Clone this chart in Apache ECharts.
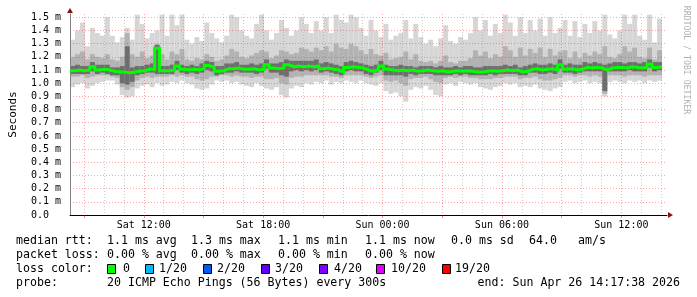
<!DOCTYPE html>
<html><head><meta charset="utf-8">
<script src="https://cdn.jsdelivr.net/npm/echarts@6/dist/echarts.min.js"></script>
<style>html,body{margin:0;padding:0;background:#fff}#c{width:697px;height:297px}</style>
</head><body><div id="c"></div>
<script>
// ---- time frame (hours since Sat 00:00) ----
const startHour = 8 + 17/60 + 38/3600;   // Sat 08:17:38
const stepHours = 0.25;                  // one smoke column = 15 min
const spanHours = 30;
const yMax = 1.525;

// ---- data (ms) ----
const medianRtt = [
1.095,1.10,1.095,1.10,1.125,1.10,1.105,1.10,1.09,1.085,
1.085,1.08,1.085,1.09,1.095,1.105,1.105,1.265,1.095,1.095,
1.10,1.13,1.105,1.10,1.105,1.10,1.11,1.135,1.12,1.09,
1.095,1.11,1.11,1.115,1.105,1.105,1.11,1.10,1.105,1.14,
1.115,1.11,1.115,1.14,1.125,1.13,1.125,1.13,1.125,1.13,
1.11,1.115,1.105,1.10,1.085,1.12,1.125,1.12,1.115,1.10,
1.09,1.105,1.13,1.105,1.10,1.095,1.10,1.095,1.10,1.09,
1.095,1.10,1.095,1.09,1.095,1.085,1.09,1.095,1.09,1.095,
1.09,1.085,1.085,1.09,1.095,1.09,1.095,1.10,1.095,1.10,
1.085,1.09,1.105,1.11,1.10,1.105,1.11,1.10,1.14,1.105,
1.11,1.10,1.105,1.12,1.115,1.12,1.115,1.10,1.115,1.12,
1.12,1.115,1.125,1.12,1.115,1.12,1.145,1.12,1.125];
const smokeMax = [
1.33,1.40,1.46,1.28,1.42,1.38,1.36,1.50,1.36,1.31,
1.35,1.42,1.33,1.52,1.45,1.34,1.38,1.40,1.52,1.36,
1.52,1.44,1.52,1.33,1.30,1.35,1.32,1.46,1.38,1.34,
1.31,1.36,1.52,1.50,1.40,1.36,1.34,1.45,1.52,1.40,
1.33,1.38,1.48,1.42,1.36,1.40,1.50,1.45,1.38,1.47,
1.40,1.50,1.38,1.52,1.48,1.46,1.52,1.50,1.42,1.36,
1.48,1.40,1.35,1.45,1.33,1.36,1.38,1.48,1.34,1.45,
1.35,1.30,1.33,1.28,1.34,1.44,1.32,1.30,1.35,1.33,
1.38,1.50,1.40,1.48,1.36,1.45,1.38,1.52,1.46,1.36,
1.50,1.38,1.48,1.40,1.49,1.36,1.50,1.38,1.42,1.48,
1.36,1.47,1.35,1.45,1.38,1.47,1.40,1.52,1.37,1.34,
1.40,1.52,1.45,1.52,1.36,1.33,1.52,1.31,1.49];
const smokeHi = [
1.20,1.22,1.24,1.18,1.22,1.20,1.19,1.22,1.18,1.17,
1.20,1.38,1.22,1.20,1.24,1.19,1.21,1.30,1.22,1.18,
1.24,1.22,1.26,1.18,1.17,1.19,1.18,1.22,1.20,1.17,
1.18,1.21,1.26,1.24,1.20,1.19,1.21,1.23,1.25,1.24,
1.19,1.21,1.25,1.24,1.22,1.23,1.27,1.26,1.24,1.27,
1.25,1.28,1.24,1.30,1.27,1.26,1.30,1.28,1.25,1.22,
1.26,1.22,1.21,1.23,1.18,1.19,1.20,1.24,1.18,1.22,
1.17,1.16,1.17,1.15,1.17,1.21,1.16,1.15,1.17,1.17,
1.19,1.25,1.21,1.24,1.19,1.22,1.20,1.28,1.25,1.20,
1.27,1.21,1.26,1.23,1.27,1.20,1.26,1.21,1.24,1.25,
1.19,1.24,1.19,1.23,1.21,1.24,1.22,1.28,1.20,1.19,
1.22,1.28,1.24,1.27,1.20,1.19,1.27,1.18,1.25];
const smokeCoreHi = [
1.13,1.14,1.13,1.13,1.16,1.14,1.14,1.14,1.12,1.12,
1.13,1.28,1.12,1.13,1.13,1.14,1.15,1.29,1.13,1.13,
1.14,1.17,1.14,1.13,1.14,1.13,1.15,1.17,1.16,1.13,
1.13,1.15,1.15,1.16,1.14,1.14,1.15,1.14,1.15,1.18,
1.15,1.15,1.16,1.18,1.17,1.17,1.17,1.17,1.17,1.18,
1.15,1.16,1.15,1.14,1.13,1.16,1.17,1.16,1.15,1.14,
1.13,1.14,1.17,1.14,1.13,1.13,1.14,1.13,1.13,1.12,
1.13,1.13,1.13,1.12,1.13,1.12,1.12,1.13,1.12,1.13,
1.13,1.12,1.12,1.13,1.13,1.13,1.13,1.14,1.13,1.14,
1.12,1.13,1.14,1.15,1.14,1.14,1.15,1.14,1.18,1.14,
1.15,1.14,1.14,1.16,1.15,1.16,1.15,1.14,1.15,1.16,
1.16,1.15,1.16,1.16,1.15,1.16,1.18,1.16,1.16];
const smokeCoreLo = [
1.07,1.07,1.07,1.07,1.09,1.07,1.08,1.07,1.06,1.06,
1.00,0.99,1.01,1.06,1.07,1.08,1.08,1.07,1.07,1.07,
1.07,1.10,1.08,1.07,1.08,1.07,1.08,1.10,1.09,1.06,
1.07,1.08,1.08,1.09,1.08,1.08,1.08,1.07,1.08,1.11,
1.08,1.08,1.06,1.05,1.09,1.10,1.09,1.10,1.09,1.10,
1.08,1.09,1.08,1.07,1.06,1.09,1.10,1.09,1.09,1.07,
1.06,1.08,1.10,1.06,1.06,1.06,1.06,1.05,1.07,1.06,
1.07,1.07,1.07,1.06,1.06,1.06,1.06,1.07,1.06,1.07,
1.06,1.06,1.06,1.06,1.07,1.06,1.07,1.07,1.07,1.07,
1.06,1.06,1.08,1.08,1.07,1.07,1.08,1.07,1.11,1.08,
1.08,1.07,1.08,1.09,1.09,1.09,1.09,0.94,1.09,1.09,
1.09,1.09,1.10,1.09,1.09,1.09,1.12,1.09,1.10];
const smokeLo = [
1.05,1.05,1.06,1.04,1.05,1.06,1.06,1.06,1.05,1.04,
0.97,0.95,0.97,1.02,1.04,1.05,1.04,1.05,1.05,1.05,
1.06,1.05,1.06,1.05,1.05,1.03,1.02,1.03,1.05,1.05,
1.06,1.06,1.05,1.06,1.05,1.05,1.04,1.05,1.05,1.03,
1.03,1.04,1.00,0.99,1.04,1.05,1.05,1.06,1.06,1.06,
1.06,1.06,1.05,1.05,1.04,1.06,1.06,1.06,1.06,1.05,
1.04,1.05,1.06,1.02,1.01,1.02,1.00,0.98,1.03,1.04,
1.04,1.05,1.03,1.01,1.00,1.04,1.05,1.04,1.05,1.05,
1.04,1.04,1.03,1.03,1.03,1.04,1.04,1.05,1.05,1.05,
1.03,1.04,1.04,1.05,1.03,1.02,1.02,1.03,1.04,1.06,
1.06,1.05,1.06,1.06,1.05,1.06,1.05,0.92,1.06,1.06,
1.06,1.05,1.06,1.06,1.06,1.05,1.06,1.06,1.06];
const smokeMin = [
0.97,0.99,1.00,0.96,0.98,1.00,1.01,1.02,1.02,0.99,
0.91,0.89,0.90,0.96,0.98,0.99,0.97,1.00,0.98,0.99,
1.01,1.00,1.02,1.00,0.99,0.96,0.95,0.96,0.99,1.02,
1.01,1.02,1.00,1.01,0.99,0.98,0.97,1.00,0.98,0.96,
0.95,0.97,0.91,0.89,0.96,0.98,0.97,1.00,0.99,1.01,
1.00,1.02,0.99,1.01,1.00,1.02,1.01,1.00,1.02,1.00,
0.99,0.98,1.00,0.94,0.92,0.93,0.90,0.86,0.95,0.97,
0.96,0.98,0.95,0.91,0.90,0.99,1.00,0.98,1.01,1.00,
0.99,1.00,0.97,0.96,0.95,0.97,0.98,1.00,0.99,1.00,
0.97,0.98,0.97,0.99,0.96,0.95,0.94,0.96,0.97,1.01,
1.02,1.00,1.01,1.02,1.00,1.01,1.00,0.90,1.01,1.02,
1.01,1.00,1.02,1.01,1.02,1.00,1.02,1.01,1.02];

// ---- axes ----
const yTicks = [0,0.1,0.2,0.3,0.4,0.5,0.6,0.7,0.8,0.9,1.0,1.1,1.2,1.3,1.4,1.5];
const majorHours = [9,12,15,18,21,24,27,30,33,36];
const minorHours = [10,11,13,14,16,17,19,20,22,23,25,26,28,29,31,32,34,35,37,38];
const labelHours = [12,18,24,30,36];
const tickLabels = ['Sat 12:00','Sat 18:00','Sun 00:00','Sun 06:00','Sun 12:00'];

// ---- legend ----
const lossLabels = ['0','1/20','2/20','3/20','4/20','10/20','19/20'];
const lossColors = ['#00ff00','#00b8ff','#0059ff','#5e00ff','#7e00ff','#dd00ff','#ff0000'];

const colTime = medianRtt.map((v, i) => startHour + i * stepHours);

function band(lo, hi, color, z) {
  return {
    type: 'custom', z: z, silent: true, animation: false,
    encode: { x: 0, y: [1, 2] },
    data: lo.map((v, i) => [colTime[i], v, hi[i]]),
    renderItem: function (params, api) {
      const t = api.value(0);
      const a = api.coord([t, api.value(2)]);
      const b = api.coord([t + stepHours, api.value(1)]);
      return { type: 'rect', shape: { x: a[0], y: a[1], width: b[0] - a[0], height: b[1] - a[1] },
               style: { fill: color } };
    }
  };
}

const medLine = medianRtt.map((v, i) => [colTime[i], v]);
medLine.push([startHour + medianRtt.length * stepHours, medianRtt[medianRtt.length - 1]]);

const mono = 'DejaVu Sans Mono';
const chart = echarts.init(document.getElementById('c'), null, { renderer: 'canvas' });

chart.setOption({
  animation: false,
  backgroundColor: '#ffffff',
  grid: { left: 67, right: 30, top: 14, bottom: 82, containLabel: false },
  xAxis: [{
    type: 'value', min: startHour, max: startHour + spanHours, z: 3,
    axisLine: { show: true, onZero: false, lineStyle: { color: '#000', width: 1 } },
    axisTick: { show: true, customValues: majorHours, length: 3, lineStyle: { color: 'rgba(255,0,0,0.45)' } },
    axisLabel: { customValues: labelHours, margin: 5, color: '#000', fontFamily: mono, fontSize: 10,
      formatter: function (v) { for (let k = 0; k < labelHours.length; k++) if (Math.abs(labelHours[k] - v) < 1e-6) return tickLabels[k]; return ''; } },
    splitLine: { show: true, customValues: majorHours, lineStyle: { color: 'rgba(255,0,0,0.35)', width: 1, type: [1, 2] } }
  }, {
    type: 'value', min: startHour, max: startHour + spanHours, z: 3, position: 'top',
    axisLine: { show: false }, axisTick: { show: false, customValues: minorHours }, axisLabel: { show: false, customValues: minorHours },
    splitLine: { show: true, customValues: minorHours, lineStyle: { color: 'rgba(130,130,130,0.4)', width: 1, type: [1, 2] } }
  }],
  yAxis: {
    type: 'value', min: 0, max: yMax, z: 3,
    axisLine: { show: true, lineStyle: { color: '#808080', width: 1 } },
    axisTick: { show: false, customValues: yTicks },
    axisLabel: { customValues: yTicks, margin: 9, color: '#000', fontFamily: mono, fontSize: 10,
      formatter: function (v) { return v < 0.001 ? '0.0  ' : v.toFixed(1) + ' m'; } },
    splitLine: { show: true, customValues: yTicks, lineStyle: { color: 'rgba(255,0,0,0.35)', width: 1, type: [1, 2] } },
    name: 'Seconds', nameLocation: 'middle', nameRotate: 90, nameGap: 51,
    nameTextStyle: { fontFamily: mono, fontSize: 11, color: '#000' }
  },
  series: [
    band(smokeMin, smokeMax, '#d6d6d6', 1),
    band(smokeLo, smokeHi, '#b2b2b2', 1),
    band(smokeCoreLo, smokeCoreHi, '#6e6e6e', 1),
    { type: 'line', data: medLine, step: 'end', symbol: 'none', silent: true, z: 5,
      lineStyle: { color: '#00ff00', width: 3, join: 'miter', cap: 'butt' } }
  ]
});

// ---- arrows & texts ----
const pEnd = chart.convertToPixel({ seriesIndex: 3 }, [startHour + spanHours, 0]);
const pTop = chart.convertToPixel({ seriesIndex: 3 }, [startHour, yMax]);
const g = [];
g.push({ type: 'polygon', shape: { points: [[pEnd[0] + 1, pEnd[1] - 3], [pEnd[0] + 6, pEnd[1]], [pEnd[0] + 1, pEnd[1] + 3]] }, style: { fill: '#8f1010' }, z: 10 });
g.push({ type: 'polygon', shape: { points: [[pTop[0] - 3, pTop[1] - 1], [pTop[0], pTop[1] - 6], [pTop[0] + 3, pTop[1] - 1]] }, style: { fill: '#8f1010' }, z: 10 });
g.push({ type: 'text', x: 686, y: 60, rotation: -Math.PI / 2,
  style: { text: 'RRDTOOL / TOBI OETIKER', fill: '#b0b0b0', font: '8.2px "DejaVu Sans Mono"', align: 'center', verticalAlign: 'middle' } });

function t(x, y, s) {
  g.push({ type: 'text', x: x, y: y, style: { text: s, fill: '#000', font: '11.6px "DejaVu Sans Mono"', align: 'left', verticalAlign: 'middle' } });
}
const r1 = 241, r2 = 255, r3 = 269, r4 = 283;
t(16, r1, 'median rtt:'); t(107, r1, '1.1 ms avg'); t(191, r1, '1.3 ms max'); t(278, r1, '1.1 ms min');
t(365, r1, '1.1 ms now'); t(451, r1, '0.0 ms sd'); t(529, r1, '64.0'); t(578, r1, 'am/s');
t(16, r2, 'packet loss:'); t(107, r2, '0.00 % avg'); t(191, r2, '0.00 % max'); t(278, r2, '0.00 % min'); t(365, r2, '0.00 % now');
t(16, r3, 'loss color:');
const boxX = [107, 145, 203, 261, 319, 376, 442];
const labX = [123, 159, 217, 275, 334, 391, 455];
lossLabels.forEach(function (lab, k) {
  g.push({ type: 'rect', shape: { x: boxX[k] + 0.5, y: r3 - 4.5, width: 8, height: 9 }, style: { fill: lossColors[k], stroke: '#000', lineWidth: 1 } });
  t(labX[k], r3, lab);
});
t(16, r4, 'probe:'); t(107, r4, '20 ICMP Echo Pings (56 Bytes) every 300s');
g.push({ type: 'text', x: 680, y: r4, style: { text: 'end: Sun Apr 26 14:17:38 2026', fill: '#000', font: '11.6px "DejaVu Sans Mono"', align: 'right', verticalAlign: 'middle' } });

chart.setOption({ graphic: g });
</script>
</body></html>
